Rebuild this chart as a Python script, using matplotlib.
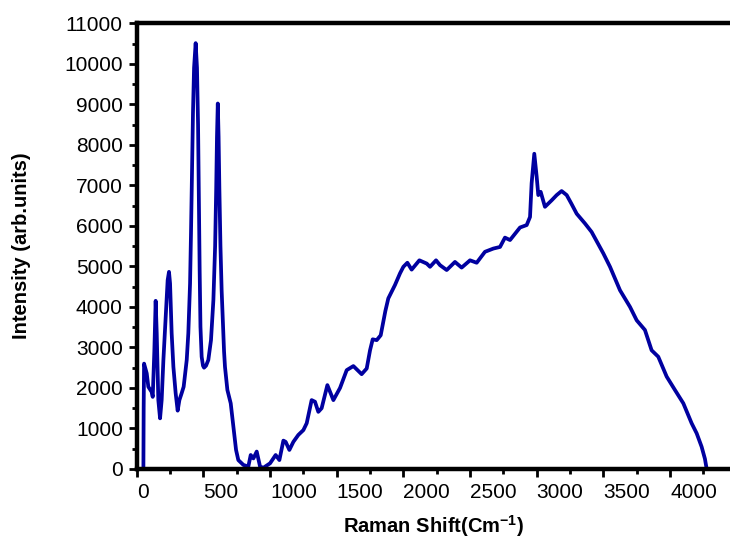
import numpy as np
import matplotlib
matplotlib.use('Agg')
import matplotlib.pyplot as plt

plt.rcParams['font.family'] = ['Liberation Sans', 'DejaVu Sans']
plt.rcParams['mathtext.fontset'] = 'custom'
plt.rcParams['mathtext.rm'] = 'Liberation Sans'
plt.rcParams['mathtext.bf'] = 'Liberation Sans:bold'

# ---- data ----
raman_shift = [50, 52, 55, 75, 87, 112, 120, 132, 142, 150,
               162, 175, 187, 200, 217, 232, 242, 250, 262, 275,
               292, 307, 320, 337, 352, 375, 387, 400, 407, 415,
               422, 430, 442, 452, 460, 466, 472, 478, 487, 497,
               505, 520, 537, 557, 575, 588, 596, 602, 608, 614,
               620, 628, 637, 645, 655, 662, 680, 705, 725, 745,
               762, 800, 837, 855, 875, 900, 925, 950, 1000, 1042,
               1070, 1100, 1117, 1145, 1175, 1212, 1250, 1275, 1312, 1337,
               1362, 1387, 1430, 1475, 1525, 1575, 1625, 1687, 1725, 1750,
               1770, 1800, 1830, 1865, 1887, 1937, 1975, 2000, 2030, 2062,
               2120, 2175, 2200, 2245, 2275, 2325, 2387, 2437, 2500, 2550,
               2612, 2675, 2725, 2762, 2800, 2875, 2925, 2950, 2962, 2982,
               3000, 3012, 3030, 3062, 3112, 3150, 3187, 3225, 3260, 3300,
               3362, 3412, 3500, 3550, 3625, 3700, 3750, 3812, 3862, 3912,
               3975, 4037, 4100, 4162, 4200, 4237, 4262, 4275]
intensity = [0, 1500, 2600, 2360, 2030, 1900, 1780, 2900, 4150, 3350,
             1700, 1250, 1700, 2690, 3760, 4660, 4865, 4580, 3350, 2520,
             1870, 1440, 1700, 1870, 2030, 2690, 3350, 4580, 5810, 7450,
             8800, 9900, 10510, 9900, 8500, 6630, 4900, 3510, 2770, 2550,
             2500, 2550, 2690, 3180, 4170, 5500, 6900, 8200, 9020, 8200,
             6900, 5500, 4400, 3760, 2900, 2520, 1950, 1620, 1040, 470,
             220, 100, 60, 345, 260, 430, 60, 30, 140, 345,
             220, 700, 670, 470, 670, 840, 960, 1130, 1700, 1660,
             1410, 1500, 2070, 1700, 2000, 2440, 2540, 2340, 2480, 2930,
             3200, 3180, 3300, 3900, 4210, 4540, 4830, 4990, 5090, 4920,
             5150, 5070, 4990, 5150, 5030, 4910, 5110, 4970, 5150, 5090,
             5360, 5440, 5480, 5710, 5650, 5960, 6020, 6220, 7050, 7780,
             7210, 6760, 6840, 6470, 6630, 6760, 6860, 6760, 6550, 6300,
             6060, 5850, 5320, 4990, 4410, 4000, 3670, 3430, 2930, 2770,
             2280, 1950, 1620, 1130, 880, 550, 250, 0]

x_ticks = [0, 500, 1000, 1500, 2000, 2500, 3000, 3500, 4000]
y_ticks = [0, 1000, 2000, 3000, 4000, 5000, 6000, 7000, 8000, 9000, 10000, 11000]

fig = plt.figure(figsize=(7.30, 5.44), dpi=100)
ax = fig.add_axes([0.1873, 0.1379, 0.8127, 0.8193])

ax.plot(raman_shift, intensity, color='#0000A0', lw=2.7,
        solid_joinstyle='round', solid_capstyle='round')

ax.set_xlim(0, 4450)
ax.set_ylim(0, 11000)
ax.set_xticks(x_ticks)
ax.set_xticks(np.arange(250, 4450, 500), minor=True)
ax.set_yticks(y_ticks)
ax.set_yticks(np.arange(500, 11000, 1000), minor=True)

for s in ['left', 'bottom', 'top']:
    ax.spines[s].set_linewidth(3.2)
ax.spines['right'].set_visible(False)

ax.tick_params(which='major', direction='out', length=6, width=2, labelsize=15, pad=4)
ax.tick_params(which='minor', direction='out', length=3.5, width=2)
ax.tick_params(top=False, right=False)
for lab in ax.get_xticklabels():
    lab.set_horizontalalignment('left')

ax.set_xlabel(r'Raman Shift(Cm$^{\mathbf{-1}}$)', fontsize=14.5, fontweight='bold', labelpad=8)
ax.set_ylabel('Intensity (arb.units)', fontsize=14.5, fontweight='bold', labelpad=24)

fig.savefig('out.png', dpi=100)
